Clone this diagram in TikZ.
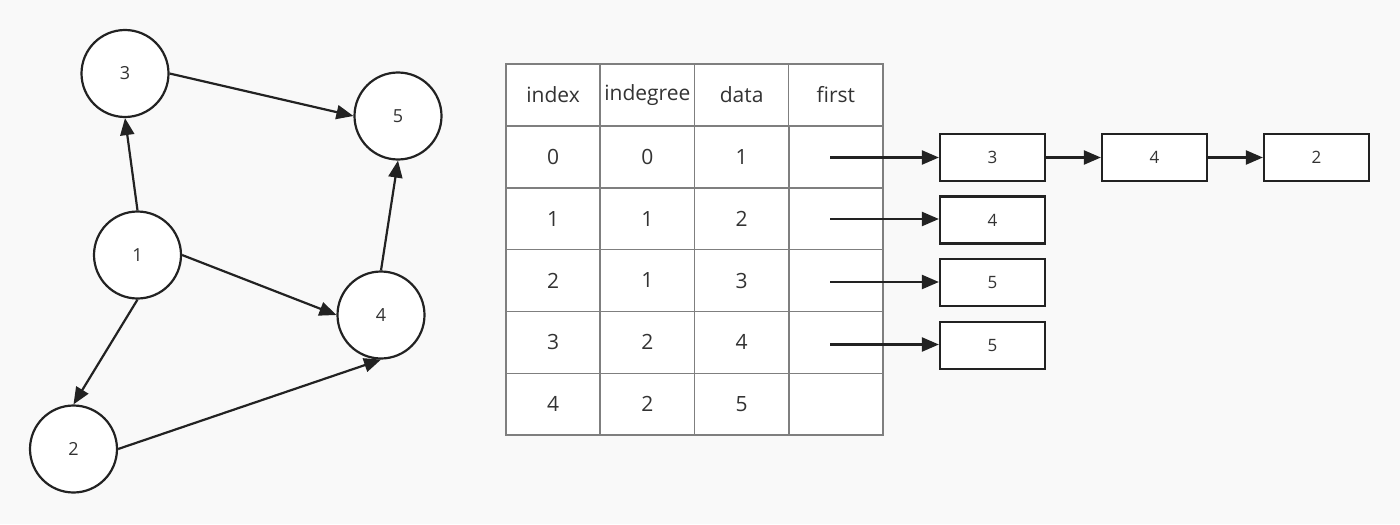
\documentclass[tikz,border=0pt]{standalone}
\usepackage{fontspec}
\setmainfont{Open Sans}
\usetikzlibrary{arrows.meta}
\definecolor{bgcol}{HTML}{F9F9F9}
\definecolor{inkcol}{HTML}{222222}
\definecolor{textcol}{HTML}{333333}
\definecolor{gridcol}{HTML}{7F7F7F}
\tikzset{
    vertex/.style={circle, draw=inkcol, line width=1.1pt, fill=white, minimum size=43.5pt, inner sep=0pt, text=textcol, font=\fontsize{9}{10}\selectfont},
    cell/.style={rectangle, draw=gridcol, line width=0.75pt, fill=white, minimum width=47.125pt, minimum height=30.9pt, inner sep=0pt, text=textcol, font=\fontsize{10.5}{12}\selectfont},
    listbox/.style={rectangle, draw=inkcol, line width=1.1pt, fill=white, minimum width=52.5pt, minimum height=23.5pt, inner sep=0pt, text=textcol, font=\fontsize{8.5}{10}\selectfont},
    link/.style={draw=inkcol, line width=1.1pt, -{Triangle[length=8.5pt,width=7pt]}}
}
\begin{document}
\begin{tikzpicture}[x=0.5pt, y=-0.5pt]
        \fill[bgcol] (0,0) rectangle (1400,524);

        \node[vertex] (v3) at (125,73.5) {3};
        \node[vertex] (v5) at (398,116) {5};
        \node[vertex] (v1) at (137.5,255) {1};
        \node[vertex] (v4) at (381,315) {4};
        \node[vertex] (v2) at (73.5,449) {2};

        \draw[link] (v1.north) -- (v3.south);
        \draw[link] (v3.east) -- (v5.west);
        \draw[link] (v4.north) -- (v5.south);
        \draw[link] (v1.east) -- (v4.west);
        \draw[link] (v1.south) -- (v2.north);
        \draw[link] (v2.east) -- (v4.south);

        \foreach \txt [count=\c from 0] in {index,indegree,data,first}
            \node[cell] (h\c) at ({553.1+94.25*\c},94.9) {\txt};
        \foreach \a/\b/\d [count=\r from 0] in {0/0/1, 1/1/2, 2/1/3, 3/2/4, 4/2/5} {
            \node[cell] (r\r c0) at (553.1,{156.8+61.85*\r}) {\a};
            \node[cell] (r\r c1) at (647.4,{156.8+61.85*\r}) {\b};
            \node[cell] (r\r c2) at (741.6,{156.8+61.85*\r}) {\d};
            \node[cell] (r\r c3) at (835.9,{156.8+61.85*\r}) {};
        }

        \node[listbox] (l0a) at (992.5,157.5) {3};
        \node[listbox] (l0b) at (1154.5,157.5) {4};
        \node[listbox] (l0c) at (1316.5,157.5) {2};
        \node[listbox] (l1) at (992.5,220) {4};
        \node[listbox] (l2) at (992.5,282.5) {5};
        \node[listbox] (l3) at (992.5,345.5) {5};

        \coordinate (f0) at (830,157.5);
        \coordinate (f1) at (830,219);
        \coordinate (f2) at (830,282);
        \coordinate (f3) at (830,344.5);

        \draw[link] (f0) -- (l0a);
        \draw[link] (l0a) -- (l0b);
        \draw[link] (l0b) -- (l0c);
        \draw[link] (f1) -- (l1.west |- f1);
        \draw[link] (f2) -- (l2.west |- f2);
        \draw[link] (f3) -- (l3.west |- f3);
    \end{tikzpicture}
\end{document}
